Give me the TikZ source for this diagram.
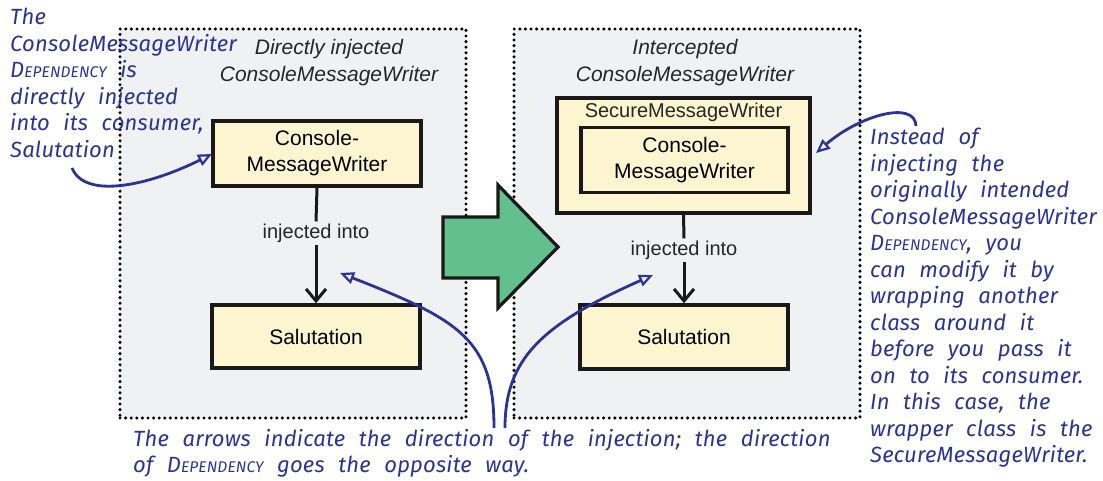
\documentclass[tikz,border=0pt]{standalone}
\usepackage{fontspec}
\setmainfont{Liberation Sans}
\newfontfamily\handfont[LetterSpace=1, WordSpace=2.3]{Fira Sans}
\usetikzlibrary{arrows.meta}
\definecolor{panelgray}{HTML}{F0F1F3}
\definecolor{boxfill}{HTML}{FDF5D0}
\definecolor{arrowgreen}{HTML}{61C08B}
\definecolor{inkblue}{HTML}{2B3494}
\newcommand{\depsc}{D{\fontsize{15.5}{15.5}\selectfont EPENDENCY}}
\tikzset{
  panel/.style={draw=black, fill=panelgray, line width=3.4pt, dash pattern=on 0pt off 5.6pt, line cap=round, minimum width=346pt, minimum height=389pt, inner sep=0pt},
  classbox/.style={draw=black!90, fill=boxfill, line width=3.5pt, align=center, inner sep=0pt, font=\fontsize{21}{26}\selectfont},
  paneltitle/.style={align=center, font=\fontsize{21}{27}\selectfont\itshape, text=black!85},
  injlabel/.style={font=\fontsize{20}{24}\selectfont, text=black!85, inner sep=2pt},
  inject/.style={line width=3pt, draw=black!90},
  note/.style={align=left, anchor=north west, inner sep=0pt, text=inkblue, font=\handfont\itshape\fontsize{22}{26.5}\selectfont},
  pointer/.style={draw=inkblue, line width=2.8pt, -{Triangle[open, length=14pt, width=12pt, line width=2.2pt]}},
}
\begin{document}
\begin{tikzpicture}[x=1pt, y=-1pt]
  \path[use as bounding box, fill=white] (0,0) rectangle (1103,481);

  % the two panels
  \node[panel] (lpanel) at (293,223.5) {};
  \node[panel] (rpanel) at (687,223.5) {};

  \node[paneltitle] (ltitle) at (329,63) {Directly injected\\ConsoleMessageWriter};
  \node[paneltitle] (rtitle) at (685,63) {Intercepted\\ConsoleMessageWriter};

  % left panel: direct injection
  \node[classbox, minimum width=208pt, minimum height=65pt] (cmw1) at (317,153.5) {Console-\\MessageWriter};
  \node[classbox, minimum width=208pt, minimum height=63pt] (sal1) at (316,336.5) {Salutation};
  \node[injlabel] (inj1) at (316,233) {injected into};
  \draw[inject] (cmw1.south) -- (inj1.north);
  \draw[inject, -{Straight Barb[length=12pt, width=20pt, line width=3pt]}] (inj1.south) -- (sal1.north);

  % right panel: intercepted injection
  \node[classbox, minimum width=253pt, minimum height=115pt] (smw) at (683.5,155.5) {};
  \node[font=\fontsize{20}{24}\selectfont, text=black!85] (smwlabel) at (683.5,112) {SecureMessageWriter};
  \node[classbox, minimum width=207pt, minimum height=65pt] (cmw2) at (684.5,160) {Console-\\MessageWriter};
  \node[classbox, minimum width=208pt, minimum height=64pt] (sal2) at (684,337) {Salutation};
  \node[injlabel] (inj2) at (684,250) {injected into};
  \draw[inject] (smw.south) -- (inj2.north);
  \draw[inject, -{Straight Barb[length=12pt, width=20pt, line width=3pt]}] (inj2.south) -- (sal2.north);

  % big green transition arrow
  \draw[fill=arrowgreen, draw=black!90, line width=3.2pt, line join=miter]
    (443,217) -- (498,217) -- (498,185) -- (558,247) -- (498,308) -- (498,278) -- (443,278) -- cycle;

  % annotations
  \node[note] (leftnote) at (10,8) {The\\ConsoleMessageWriter\\\depsc{} is\\directly injected\\into its consumer,\\Salutation};
  \node[note] (rightnote) at (870,128) {Instead of\\injecting the\\originally intended\\ConsoleMessageWriter\\\depsc, you\\can modify it by\\wrapping another\\class around it\\before you pass it\\on to its consumer.\\In this case, the\\wrapper class is the\\SecureMessageWriter.};
  \node[note] (bottomnote) at (133,429) {The arrows indicate the direction of the injection; the direction\\of \depsc{} goes the opposite way.};

  \coordinate (lstart) at (72,168);
  \coordinate (rstart) at (916,126);
  \coordinate (bstart1) at (494,428);
  \coordinate (bstart2) at (505,428);
  \coordinate (ltip) at (212,154);
  \coordinate (rtip) at (816,153);
  \coordinate (btip1) at (340,273);
  \coordinate (btip2) at (653,275);

  \draw[pointer] (lstart) .. controls (85,200) and (150,185) .. (ltip);
  \draw[pointer] (rstart) .. controls (915,100) and (860,115) .. (rtip);
  \draw[pointer] (bstart1) .. controls (494,340) and (460,320) .. (btip1);
  \draw[pointer] (bstart2) .. controls (505,360) and (540,325) .. (btip2);
\end{tikzpicture}
\end{document}
